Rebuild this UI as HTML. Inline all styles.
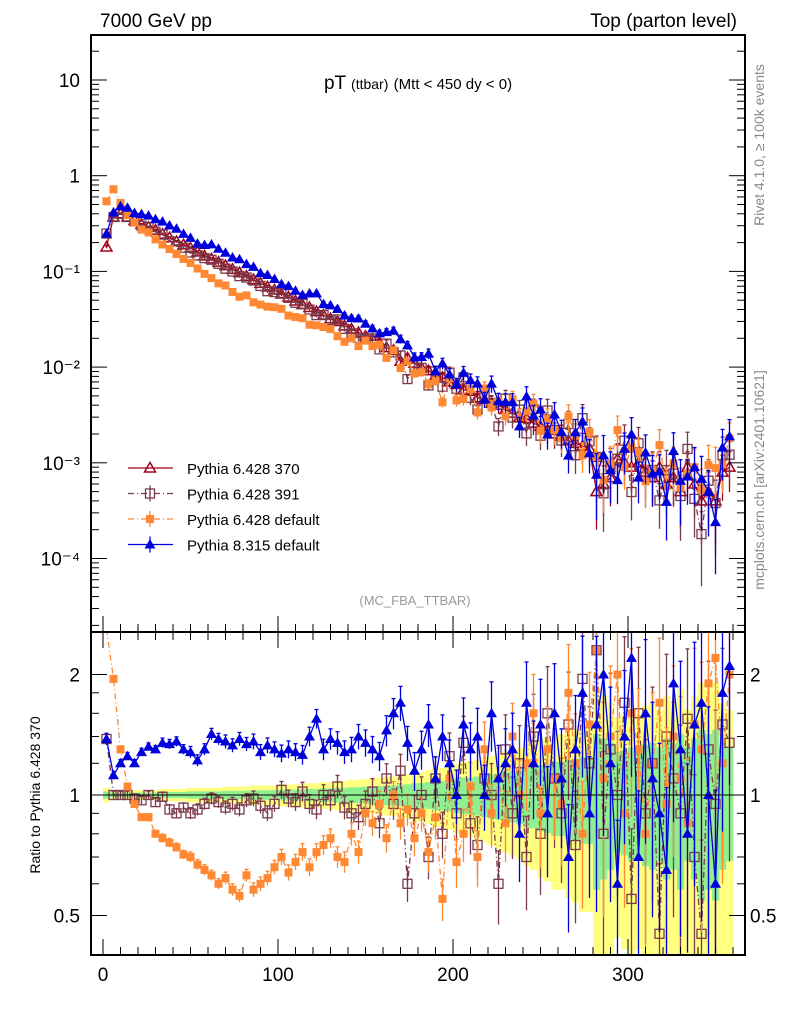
<!DOCTYPE html>
<html><head><meta charset="utf-8"><style>
html,body{margin:0;padding:0;background:#fff;width:786px;height:1024px;overflow:hidden}
svg{display:block;font-family:"Liberation Sans",sans-serif}
</style></head><body>
<svg id="c" width="786" height="1024" viewBox="0 0 786 1024">
<defs>
<clipPath id="cm"><rect x="91" y="35" width="654" height="597"/></clipPath>
<clipPath id="cr"><rect x="91" y="632" width="654" height="323"/></clipPath>
</defs>
<g id="bands" clip-path="url(#cr)"></g>
<g id="main" clip-path="url(#cm)"></g>
<g id="ratio" clip-path="url(#cr)"></g>
<g id="axes"></g>
<text x="100" y="27" font-size="19">7000 GeV pp</text>
<text x="737" y="27" font-size="19" text-anchor="end">Top (parton level)</text>
<text x="418" y="89" font-size="19" text-anchor="middle">pT <tspan font-size="14">(ttbar)</tspan> <tspan font-size="15">(Mtt &lt; 450 dy &lt; 0)</tspan></text>
<text x="415" y="605" font-size="13" fill="#999" text-anchor="middle">(MC_FBA_TTBAR)</text>
<text transform="translate(764,145) rotate(-90)" font-size="14" fill="#888" text-anchor="middle">Rivet 4.1.0, ≥ 100k events</text>
<text transform="translate(764,480) rotate(-90)" font-size="14" fill="#888" text-anchor="middle">mcplots.cern.ch [arXiv:2401.10621]</text>
<text transform="translate(40,795) rotate(-90)" font-size="14" text-anchor="middle">Ratio to Pythia 6.428 370</text>
<g id="legend"></g>
</svg>
<script>
const xs=[];for(let v=2;v<=358;v+=4)xs.push(v);
const ref370=[0.18,0.37,0.40,0.37,0.34,0.31,0.29,0.27,0.245,0.225,0.205,0.19,0.175,0.16,0.145,0.135,0.125,0.115,0.105,0.097,0.089,0.082,0.075,0.069,0.064,0.058,0.054,0.049,0.045,0.042,0.038,0.035,0.032,0.030,0.027,0.025,0.023,0.021,0.0195,0.018,0.016,0.015,0.0115,0.0125,0.011,0.0098,0.0092,0.0082,0.0078,0.0070,0.0066,0.0058,0.0056,0.0048,0.0046,0.0042,0.0040,0.0036,0.0033,0.0030,0.0029,0.0026,0.0024,0.0022,0.0020,0.0019,0.0017,0.0016,0.0015,0.0014,0.0005,0.0006,0.0007,0.0011,0.0010,0.0009,0.0010,0.0008,0.0007,0.0009,0.0006,0.0007,0.0005,0.0009,0.0006,0.0004,0.0005,0.0004,0.0008,0.0009];
const relErr=[0.03,0.02,0.02,0.02,0.02,0.02,0.02,0.02,0.025,0.025,0.025,0.025,0.03,0.03,0.03,0.03,0.03,0.035,0.035,0.035,0.035,0.04,0.04,0.04,0.04,0.045,0.045,0.045,0.05,0.05,0.05,0.055,0.055,0.06,0.06,0.065,0.065,0.07,0.07,0.075,0.08,0.08,0.09,0.09,0.1,0.1,0.11,0.12,0.12,0.13,0.14,0.15,0.15,0.16,0.17,0.18,0.19,0.2,0.21,0.22,0.24,0.25,0.27,0.28,0.3,0.3,0.32,0.33,0.35,0.35,0.6,0.55,0.5,0.4,0.42,0.45,0.42,0.48,0.5,0.45,0.55,0.5,0.6,0.45,0.55,0.65,0.6,0.65,0.5,0.45];
const ratio391=[1.38,1.0,1.0,1.0,0.98,0.97,1.0,0.96,0.99,0.92,0.9,0.93,0.9,0.92,0.95,0.98,0.96,0.93,0.95,0.92,0.97,0.98,0.94,0.9,0.95,1.03,0.98,0.96,1.02,0.95,0.92,1.0,0.97,1.05,0.93,0.9,0.88,0.95,1.02,0.85,1.1,0.95,1.15,0.6,0.9,1.0,0.7,1.1,0.8,1.25,0.9,1.35,0.85,0.75,1.1,1.0,0.6,1.3,0.9,1.2,0.7,1.4,0.8,1.6,1.1,0.9,1.5,0.75,1.95,1.2,2.3,0.8,1.3,1.0,1.7,0.55,1.6,0.9,1.2,0.45,1.4,1.1,0.9,1.55,0.7,0.45,1.3,0.95,1.5,1.35];
const ratioDefault=[3.0,1.95,1.3,1.05,0.95,0.88,0.88,0.8,0.78,0.76,0.74,0.71,0.7,0.67,0.65,0.63,0.6,0.62,0.58,0.56,0.63,0.58,0.6,0.62,0.66,0.7,0.64,0.68,0.72,0.66,0.72,0.75,0.78,0.7,0.68,0.8,0.72,0.9,0.85,0.95,0.78,1.0,0.85,0.92,0.78,0.9,0.72,0.88,0.55,1.1,0.68,0.8,1.05,0.7,1.3,0.9,1.1,0.85,1.4,1.0,1.2,1.6,0.9,1.3,1.1,0.95,1.8,1.2,0.8,1.5,2.3,1.1,1.4,2.0,0.9,1.6,1.3,0.8,1.2,1.7,0.95,1.4,1.1,0.85,1.5,1.3,1.9,2.2,1.2,2.0];
const ratio8315=[1.38,1.12,1.2,1.25,1.2,1.28,1.32,1.3,1.35,1.34,1.36,1.3,1.28,1.22,1.3,1.42,1.38,1.36,1.33,1.38,1.34,1.36,1.28,1.33,1.3,1.27,1.3,1.28,1.26,1.4,1.55,1.3,1.38,1.35,1.28,1.3,1.4,1.35,1.3,1.25,1.45,1.6,1.7,1.35,1.15,1.3,1.5,1.1,1.4,1.2,1.0,1.5,1.3,1.4,1.0,1.6,1.1,1.2,1.3,0.8,1.7,1.2,1.5,0.9,1.6,1.1,0.7,1.3,1.8,0.9,1.5,2.0,1.2,0.6,1.4,2.2,0.7,1.6,1.1,0.9,0.65,1.9,1.3,0.8,1.5,1.7,1.0,0.6,1.8,2.1];
const yTickLabels=["10","1","10⁻¹","10⁻²","10⁻³","10⁻⁴"];
const xTickLabels=["0","100","200","300"];
const rTickLabels=["0.5","1","2"];
const legendNames=["Pythia 6.428 370","Pythia 6.428 391","Pythia 6.428 default","Pythia 8.315 default"];

const NS="http://www.w3.org/2000/svg";
const X=v=>103+v*1.75;
const Y=v=>80-(Math.log10(v)-1)*95.7;
const R=v=>795-Math.log2(v)*120.5;
const RMIN=0.39,RMAX=2.6,YMIN=2e-5,YMAX=25;
const rc=v=>Math.min(RMAX,Math.max(RMIN,v));
const yc=v=>Math.min(YMAX,Math.max(YMIN,v));
function el(p,t,a){const e=document.createElementNS(NS,t);for(const k in a)e.setAttribute(k,a[k]);p.appendChild(e);return e;}
const main=document.getElementById('main'),ratio=document.getElementById('ratio'),bands=document.getElementById('bands'),axes=document.getElementById('axes'),leg=document.getElementById('legend');

let yp=[],gp=[];
xs.forEach((x,i)=>{if(ref370[i]===undefined)return;const e=relErr[i]*0.7;const x0=X(x-2),x1=X(x+2);
 yp.push([x0,x1,R(rc(1+2*e)),R(rc(1-2*e))]);gp.push([x0,x1,R(rc(1+e)),R(rc(1-e))]);});
yp.forEach(b=>{const r=el(bands,'rect',{x:b[0],y:b[2],width:b[1]-b[0]+0.3,height:b[3]-b[2],fill:'#ffff80'});

});
gp.forEach(b=>{const r=el(bands,'rect',{x:b[0],y:b[2],width:b[1]-b[0]+0.3,height:b[3]-b[2],fill:'#90f090'});

});

const series=[
 {name:'pythia6-370',ratio:null,color:'#a00018',dash:'',marker:'otri',ef:1},
 {name:'pythia6-391',ratio:ratio391,color:'#7a3a4a',dash:'6,3,1,3',marker:'osq',ef:1.1},
 {name:'pythia6-default',ratio:ratioDefault,color:'#ff8833',dash:'6,3,1,3',marker:'fsq',ef:1.0},
 {name:'pythia8-315',ratio:ratio8315,color:'#0000dd',dash:'',marker:'ftri',ef:1.1}];
function marker(g,type,x,y,c,nm){let m;
 if(type==='otri')m=el(g,'polygon',{points:`${x},${y-5.5} ${x-5.5},${y+4} ${x+5.5},${y+4}`,fill:'none',stroke:c,'stroke-width':1.5});
 else if(type==='ftri')m=el(g,'polygon',{points:`${x},${y-5.5} ${x-5.5},${y+4} ${x+5.5},${y+4}`,fill:c});
 else if(type==='osq')m=el(g,'rect',{x:x-4.5,y:y-4.5,width:9,height:9,fill:'none',stroke:c,'stroke-width':1.3});
 else m=el(g,'rect',{x:x-4,y:y-4,width:8,height:8,fill:c});
 
 }
series.forEach(s=>{
 const gm=el(main,'g',{});
 const gr=el(ratio,'g',{});
 let pm=[],pr=[];
 xs.forEach((x,i)=>{const rv=s.ratio?s.ratio[i]:1;if(rv===undefined||ref370[i]===undefined)return;
  const v=ref370[i]*rv,e=relErr[i]*s.ef;const px=X(x);
  pm.push(px+','+Y(yc(v)));pr.push(px+','+R(rc(rv)));
  const hi=yc(v*(1+e)),lo=yc(v*(1-e));
  el(gm,'line',{x1:px,x2:px,y1:Y(hi),y2:Y(lo),stroke:s.color,'stroke-width':1.3});
  el(gm,'line',{x1:px-2,x2:px+2,y1:Y(hi),y2:Y(hi),stroke:s.color,'stroke-width':1.3});
  if(s.ratio){const rhi=rc(rv*(1+e)),rlo=rc(rv*(1-e));
   el(gr,'line',{x1:px,x2:px,y1:R(rhi),y2:R(rlo),stroke:s.color,'stroke-width':1.3});
   el(gr,'line',{x1:px-2,x2:px+2,y1:R(rhi),y2:R(rhi),stroke:s.color,'stroke-width':1.3});}
 });
 const lm=el(gm,'polyline',{points:pm.join(' '),fill:'none',stroke:s.color,'stroke-width':1.3,'stroke-dasharray':s.dash});
 
 
 if(s.ratio){const lr=el(gr,'polyline',{points:pr.join(' '),fill:'none',stroke:s.color,'stroke-width':1.3,'stroke-dasharray':s.dash});
  
  }
 xs.forEach((x,i)=>{const rv=s.ratio?s.ratio[i]:1;if(rv===undefined||ref370[i]===undefined)return;
  marker(gm,s.marker,X(x),Y(yc(ref370[i]*rv)),s.color,'point');
  if(s.ratio&&rv<RMAX&&rv>RMIN)marker(gr,s.marker,X(x),R(rv),s.color,'ratio-point');});
});
const ul=el(axes,'line',{x1:91,x2:745,y1:R(1),y2:R(1),stroke:'#000','stroke-width':1});

const f1=el(axes,'rect',{x:91,y:35,width:654,height:597,fill:'none',stroke:'#000','stroke-width':2});

const f2=el(axes,'rect',{x:91,y:632,width:654,height:323,fill:'none',stroke:'#000','stroke-width':2});

for(let d=-5;d<=1;d++){for(let k=1;k<10;k++){const v=k*Math.pow(10,d);const y=Y(v);if(y<35||y>632)continue;const L=k===1?16:8;
 el(axes,'line',{x1:91,x2:91+L,y1:y,y2:y,stroke:'#000','stroke-width':1});
 el(axes,'line',{x1:745-L,x2:745,y1:y,y2:y,stroke:'#000','stroke-width':1});}}
yTickLabels.forEach((t,i)=>{const v=Math.pow(10,1-i);const tx=el(axes,'text',{x:80,y:Y(v)+7,'font-size':19,'text-anchor':'end'});tx.textContent=t;
 });
for(let v=0;v<=360;v+=10){const x=X(v);const L=v%100===0?16:8;
 el(axes,'line',{x1:x,x2:x,y1:955,y2:955-L,stroke:'#000','stroke-width':1});
 el(axes,'line',{x1:x,x2:x,y1:632,y2:632-L,stroke:'#000','stroke-width':1});
 el(axes,'line',{x1:x,x2:x,y1:632,y2:632+L,stroke:'#000','stroke-width':1});}
xTickLabels.forEach(t=>{const tx=el(axes,'text',{x:X(+t),y:981,'font-size':19,'text-anchor':'middle'});tx.textContent=t;
 });
[0.5,0.6,0.7,0.8,0.9,1,1.2,1.4,1.6,1.8,2].forEach(v=>{const y=R(v);const L=(v===0.5||v===1||v===2)?16:8;
 el(axes,'line',{x1:91,x2:91+L,y1:y,y2:y,stroke:'#000'});el(axes,'line',{x1:745-L,x2:745,y1:y,y2:y,stroke:'#000'});});
rTickLabels.forEach(t=>{const y=R(+t)+7;
 const a=el(axes,'text',{x:80,y:y,'font-size':19,'text-anchor':'end'});a.textContent=t;
 
 const b=el(axes,'text',{x:750,y:y,'font-size':19});b.textContent=t;
 });
legendNames.forEach((n,i)=>{const s=series[i];const y=468+i*25.5;
 const g=el(leg,'g',{});
 el(g,'line',{x1:128,x2:173,y1:y,y2:y,stroke:s.color,'stroke-width':1.3,'stroke-dasharray':s.dash});
 if(i>0)el(g,'line',{x1:150,x2:150,y1:y-8,y2:y+8,stroke:s.color,'stroke-width':1.3});
 marker(g,s.marker,150,y,s.color,'legend-marker');
 const t=el(g,'text',{x:187,y:y+6,'font-size':15});t.textContent=n;});
</script>
</body></html>
